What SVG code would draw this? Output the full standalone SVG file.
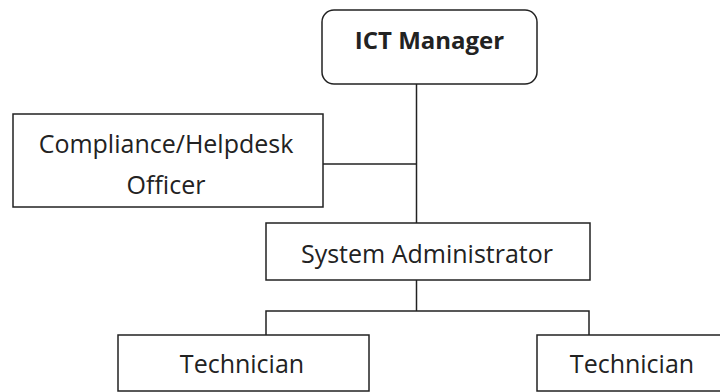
<svg xmlns="http://www.w3.org/2000/svg" width="720" height="392" viewBox="0 0 720 392">
<style>
.box{fill:#fff;stroke:#222;stroke-width:1.5}
.ln{fill:none;stroke:#222;stroke-width:1.5}
.t{font-family:"Open Sans","Liberation Sans",sans-serif;font-size:25px;fill:#222;text-anchor:middle}
.b{font-weight:bold;font-size:24px}
</style>
<rect width="720" height="392" fill="#fff"/>
<g id="connectors">
<line class="ln" x1="416.5" y1="84" x2="416.5" y2="223"/>
<line class="ln" x1="323" y1="164" x2="416.5" y2="164"/>
<line class="ln" x1="416.5" y1="280" x2="416.5" y2="311"/>
<polyline class="ln" points="266,335 266,311 589,311 589,335"/>
</g>
<g id="ict-manager">
<rect class="box" x="322" y="10" width="215" height="74" rx="12"/>
<text class="t b" x="429.5" y="49">ICT Manager</text>
</g>
<g id="compliance-officer">
<rect class="box" x="13" y="114" width="310" height="93"/>
<text class="t" x="166" y="153">Compliance/Helpdesk</text>
<text class="t" x="166" y="194">Officer</text>
</g>
<g id="system-administrator">
<rect class="box" x="266" y="223" width="324" height="57"/>
<text class="t" x="427" y="263">System Administrator</text>
</g>
<g id="technician-1">
<rect class="box" x="118" y="335" width="251" height="56"/>
<text class="t" x="242" y="373">Technician</text>
</g>
<g id="technician-2">
<rect class="box" x="537" y="335" width="251" height="56"/>
<text class="t" x="632" y="373">Technician</text>
</g>
</svg>
